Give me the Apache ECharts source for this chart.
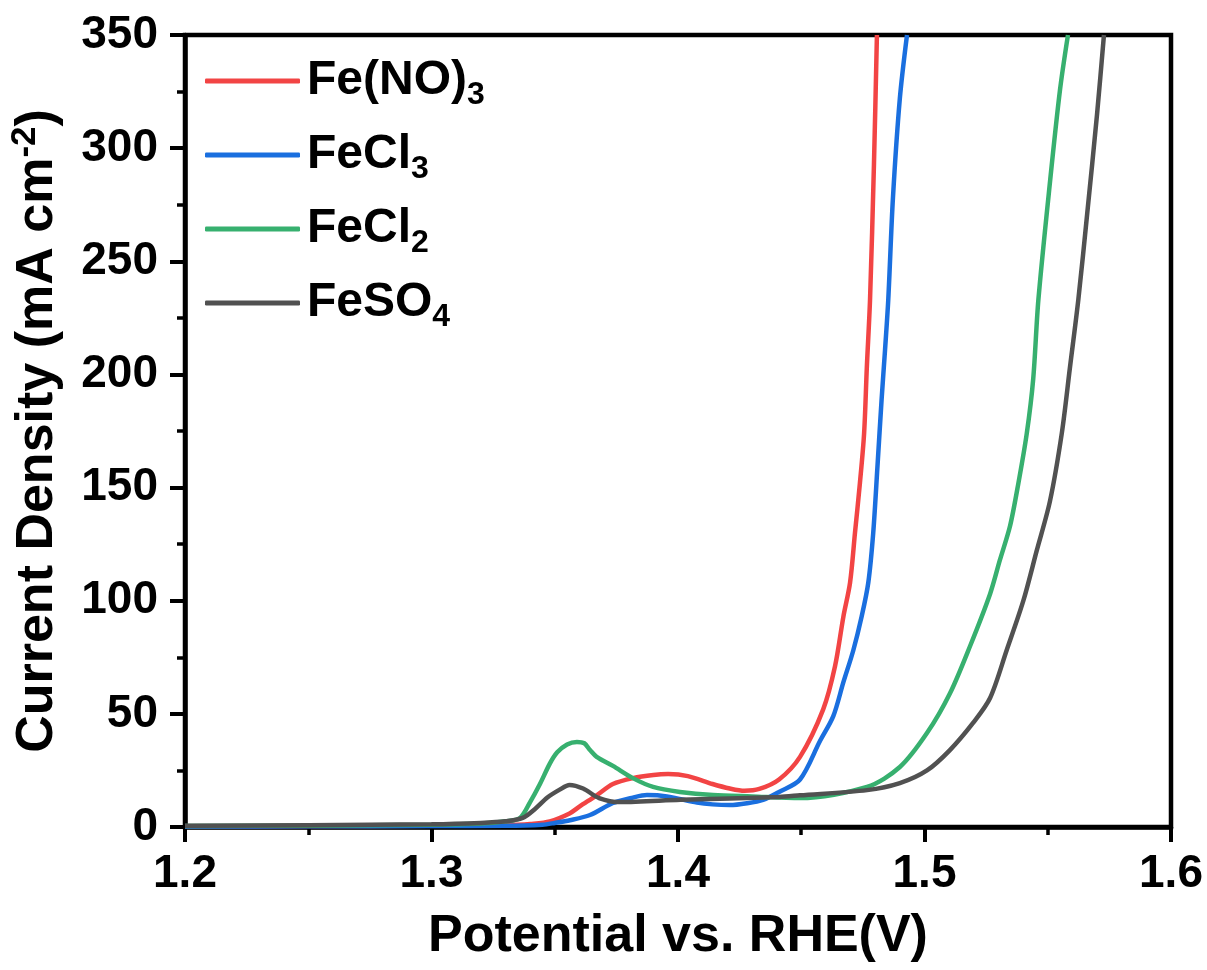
<!DOCTYPE html>
<html>
<head>
<meta charset="utf-8">
<script src="https://cdn.jsdelivr.net/npm/echarts@6/dist/echarts.min.js"></script>
<style>html,body{margin:0;padding:0;background:#fff;}#c{width:1207px;height:970px;}</style>
</head>
<body>
<div id="c"></div>
<script>
// Fe(NO)3
const nitrateV = [1.20,1.25,1.30,1.32,1.335,1.340,1.348,1.356,1.360,1.367,1.3736,1.3817,1.390,1.396,1.404,1.414,1.421,1.427,1.433,1.441,1.4495,1.4589,1.4637,1.4671,1.4698,1.4718,1.4738,1.4755,1.4766,1.4779,1.4795,1.4807];
const nitrateJ = [0.3,0.4,0.6,0.8,1.0,1.3,2.5,6,9,14,19,21.6,23,23.4,22.5,19,17,16,16.8,21,31,52,71,93,108,130,152,174,203,233,293,350];
// FeCl3
const cl3V = [1.20,1.25,1.30,1.33,1.345,1.350,1.3562,1.3643,1.3736,1.3817,1.3874,1.3955,1.4077,1.414,1.421,1.428,1.4345,1.441,1.4495,1.4576,1.4630,1.4671,1.4711,1.4745,1.4772,1.4792,1.4809,1.4826,1.4840,1.4853,1.4872,1.4900,1.4929];
const cl3J = [0.2,0.3,0.4,0.5,1.0,1.8,3,5.3,10.6,13,14.1,13.5,10.8,10,9.7,10.5,12,15.5,21,38,49,64,78,93,108,130,159,189,211,233,278,322,350];
// FeCl2
const cl2V = [1.20,1.25,1.30,1.32,1.330,1.3359,1.340,1.344,1.348,1.351,1.355,1.359,1.362,1.3643,1.367,1.3736,1.3817,1.3899,1.4008,1.4142,1.430,1.4495,1.4767,1.490,1.501,1.5103,1.5185,1.5266,1.5306,1.5347,1.5381,1.5415,1.5441,1.5462,1.551,1.555,1.5582];
const cl2J = [0.4,0.6,1.0,1.5,2.5,4,11,19,28,33,36.5,37.6,37,34,31,27,21.6,17.7,15.5,14.1,13.5,12.8,17.7,26.5,41.5,59,80,103,118,133,152,174,198,233,286,326,350];
// FeSO4
const so4V = [1.20,1.25,1.30,1.32,1.330,1.337,1.342,1.347,1.352,1.356,1.3615,1.368,1.3765,1.401,1.441,1.4495,1.4767,1.490,1.501,1.5103,1.5197,1.5266,1.5333,1.5401,1.5455,1.5509,1.5557,1.5590,1.5624,1.566,1.570,1.5728];
const so4J = [0.5,0.8,1.2,1.8,2.5,4,8,13,16.5,18.6,17,12.8,11,12,13.3,14,16.3,19.4,25,34,46,57,78,100,122,144,174,203,233,271,315,350];

const seriesNames = ['Fe(NO)3','FeCl3','FeCl2','FeSO4'];
const legendLabels = {
  'Fe(NO)3': '{a|Fe(NO)}{s|3}',
  'FeCl3': '{a|FeCl}{s|3}',
  'FeCl2': '{a|FeCl}{s|2}',
  'FeSO4': '{a|FeSO}{s|4}'
};
const colors = ['#F24444','#1A6FDF','#37B06F','#515151'];
const xTicks = [1.2,1.3,1.4,1.5,1.6];
const yTicks = [0,50,100,150,200,250,300,350];

const zip = (v, j) => v.map((x, i) => [x, j[i]]);
const allData = [zip(nitrateV,nitrateJ), zip(cl3V,cl3J), zip(cl2V,cl2J), zip(so4V,so4J)];

const FONT = '"Liberation Sans", Arial, sans-serif';
const chart = echarts.init(document.getElementById('c'));
chart.setOption({
  animation: false,
  backgroundColor: '#fff',
  textStyle: {fontFamily: FONT},
  grid: {left: 185, top: 35, right: 36, bottom: 143, show: true, borderColor: '#000', borderWidth: 4.5, backgroundColor: 'transparent'},
  legend: {
    left: 200, top: 52, orient: 'vertical',
    itemWidth: 95, itemHeight: 5, itemGap: 20, icon: 'roundRect',
    data: seriesNames,
    formatter: n => legendLabels[n],
    textStyle: {
      fontFamily: FONT, padding: [0, 0, 0, 2],
      rich: {
        a: {fontSize: 48, fontWeight: 'bold', color: '#000', fontFamily: FONT},
        s: {fontSize: 32, fontWeight: 'bold', color: '#000', fontFamily: FONT, verticalAlign: 'bottom', padding: [28, 0, 0, 0]}
      }
    }
  },
  xAxis: {
    type: 'value', min: 1.2, max: 1.6, interval: 0.1,
    name: 'Potential vs. RHE(V)', nameLocation: 'middle', nameGap: 84,
    nameTextStyle: {fontSize: 52, fontWeight: 'bold', color: '#000', fontFamily: FONT},
    axisLine: {show: true, lineStyle: {color: '#000', width: 4.5}},
    axisTick: {show: true, inside: false, length: 15, lineStyle: {color: '#000', width: 4}},
    minorTick: {show: true, splitNumber: 2, length: 8, lineStyle: {color: '#000', width: 3.5}},
    splitLine: {show: false},
    axisLabel: {fontSize: 46, fontWeight: 'bold', color: '#000', margin: 24, fontFamily: FONT,
      formatter: v => { const t = xTicks.find(k => Math.abs(k - v) < 1e-6); return t !== undefined ? t.toFixed(1) : ''; }}
  },
  yAxis: {
    type: 'value', min: 0, max: 350, interval: 50,
    name: '{a|Current Density (mA cm}{s|-2}{a|)}', nameLocation: 'middle', nameGap: 118,
    nameTextStyle: {color: '#000', fontFamily: FONT,
      rich: {
        a: {fontSize: 52, fontWeight: 'bold', color: '#000', fontFamily: FONT},
        s: {fontSize: 35, fontWeight: 'bold', color: '#000', fontFamily: FONT, verticalAlign: 'top', padding: [0, 0, 24, 0]}
      }},
    axisLine: {show: true, lineStyle: {color: '#000', width: 4.5}},
    axisTick: {show: true, inside: false, length: 15, lineStyle: {color: '#000', width: 4}},
    minorTick: {show: true, splitNumber: 2, length: 8, lineStyle: {color: '#000', width: 3.5}},
    splitLine: {show: false},
    axisLabel: {fontSize: 46, fontWeight: 'bold', color: '#000', margin: 27, fontFamily: FONT,
      formatter: v => { const t = yTicks.find(k => Math.abs(k - v) < 1e-6); return t !== undefined ? String(t) : ''; }}
  },
  series: seriesNames.map((n, i) => ({
    name: n, type: 'line', data: allData[i], showSymbol: false, symbol: 'none',
    smooth: 0.3, clip: true,
    lineStyle: {color: colors[i], width: 4.5}, itemStyle: {color: colors[i]}
  }))
});
</script>
</body>
</html>
